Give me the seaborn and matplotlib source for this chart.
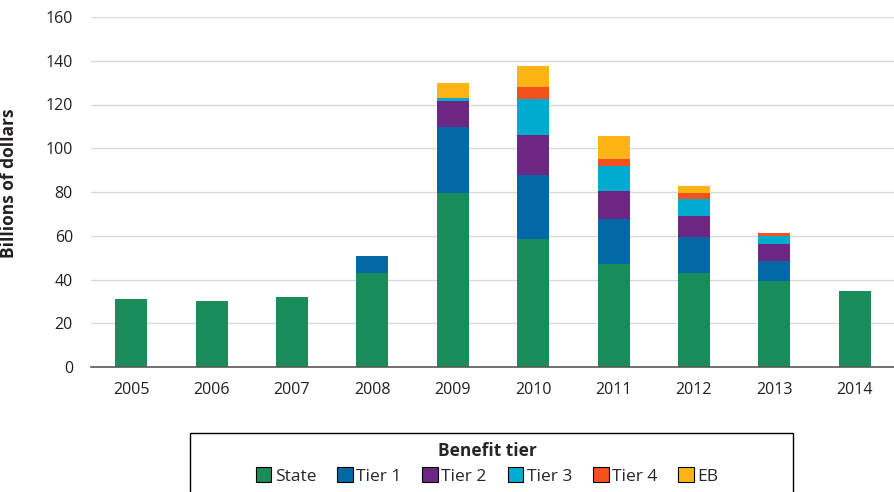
import matplotlib
matplotlib.use("Agg")
import matplotlib.pyplot as plt
import numpy as np
import pandas as pd
import seaborn as sns
from matplotlib.patches import Patch, Rectangle

# Data (billions of dollars)
years = ["2005", "2006", "2007", "2008", "2009", "2010", "2011", "2012", "2013", "2014"]
state = [31.1, 30.0, 32.0, 43.0, 79.4, 58.4, 46.9, 42.8, 39.2, 34.7]
tier1 = [0, 0, 0, 7.7, 30.4, 29.2, 20.6, 16.5, 9.1, 0]
tier2 = [0, 0, 0, 0, 11.9, 18.3, 13.1, 9.9, 8.1, 0]
tier3 = [0, 0, 0, 0, 1.4, 16.6, 11.1, 7.4, 3.3, 0]
tier4 = [0, 0, 0, 0, 0, 5.6, 3.5, 2.9, 1.4, 0]
eb = [0, 0, 0, 0, 6.7, 9.5, 10.5, 3.1, 0, 0]

series_names = ["State", "Tier 1", "Tier 2", "Tier 3", "Tier 4", "EB"]
series_values = [state, tier1, tier2, tier3, tier4, eb]
colors = ["#1a8c5a", "#0068a5", "#6c2783", "#00abd0", "#f4511f", "#fdb515"]

sns.set_theme(style="white")
plt.rcParams["font.family"] = ["Open Sans", "DejaVu Sans"]
text_color = "#231f20"

fig = plt.figure(figsize=(8.95, 4.92), dpi=100)
ax = fig.add_axes([91 / 895, 1 - 367 / 492, 1 - 91 / 895, (367 - 17) / 492])

# Stacked bars: draw cumulative totals from the top layer down
cum = np.cumsum(np.array(series_values), axis=0)
for i in range(len(series_names) - 1, -1, -1):
    df = pd.DataFrame({"year": years, "value": cum[i]})
    sns.barplot(data=df, x="year", y="value", color=colors[i], width=0.4,
                saturation=1, linewidth=0, ax=ax)

ax.set_ylim(0, 160)
ax.set_xlim(-0.5, 9.5)
ax.set_yticks(np.arange(0, 161, 20))
ax.yaxis.grid(True, color="#d9d9d9", linewidth=1)
ax.set_axisbelow(True)
for side in ["top", "right", "left"]:
    ax.spines[side].set_visible(False)
ax.spines["bottom"].set_color("#595959")
ax.spines["bottom"].set_linewidth(1.2)
ax.spines["bottom"].set_zorder(5)

ax.tick_params(axis="both", length=0, labelsize=11.5, colors=text_color)
ax.tick_params(axis="y", pad=13)
ax.tick_params(axis="x", pad=11)
ax.set_xlabel("")
ax.set_ylabel("Billions of dollars", fontsize=12.5, fontweight="bold", color=text_color)
ax.yaxis.set_label_coords(-0.091, 0.526)

# Legend with framed box reaching below the figure edge
handles = [Patch(facecolor=c, edgecolor="black", linewidth=0.8) for c in colors]
fig.legend(handles, series_names, title="Benefit tier", ncol=6, frameon=False,
           loc="upper center", bbox_to_anchor=(487 / 895, 1 - 430 / 492),
           fontsize=12.5, title_fontproperties={"weight": "bold", "size": 12.5},
           handlelength=0.9, handleheight=0.9, handletextpad=0.2,
           columnspacing=1.2, borderpad=0.2, labelspacing=0.42)
fig.add_artist(Rectangle((190 / 895, -0.05), 603 / 895, (492 - 433) / 492 + 0.05,
                         transform=fig.transFigure, fill=False,
                         edgecolor="black", linewidth=1))

fig.savefig("out.png", dpi=100)
